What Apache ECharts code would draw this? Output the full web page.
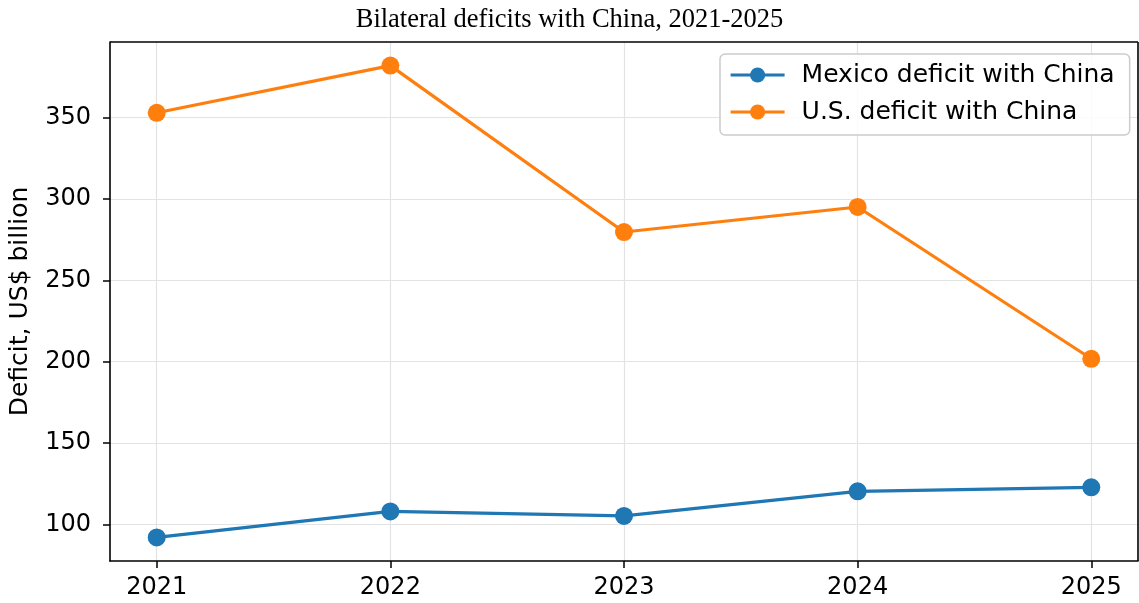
<!DOCTYPE html>
<html>
<head>
<meta charset="utf-8">
<script src="https://cdn.jsdelivr.net/npm/echarts@6/dist/echarts.min.js"></script>
<style>
html,body{margin:0;padding:0;background:#fff;}
#chart{width:1139px;height:603px;}
</style>
</head>
<body>
<div id="chart"></div>
<script>
// data
var years = [2021, 2022, 2023, 2024, 2025];
var mexico = [92, 108, 105.2, 120.3, 122.8];
var usa = [353, 382, 279.7, 295.1, 201.8];
var yTicks = [100, 150, 200, 250, 300, 350];

function pairs(vals){
    var out = [];
    for (var i = 0; i < years.length; i++) {
        out.push([years[i], vals[i]]);
    }
    return out;
}

var chart = echarts.init(document.getElementById("chart"));
var tickFont = {fontFamily: 'DejaVu Sans', fontSize: 24, color: '#000'};

var option = {
    animation: false,
    title: {
        text: 'Bilateral deficits with China, 2021-2025',
        left: 'center',
        top: 2,
        textStyle: {fontFamily: 'Liberation Serif', fontSize: 26.5, fontWeight: 'normal', color: '#000'}
    },
    grid: {left: 110, top: 42, right: 1, bottom: 42, containLabel: false, outerBoundsMode: 'none'},
    legend: {
        orient: 'vertical',
        left: 720,
        top: 54,
        padding: [8, 15, 10, 9],
        itemWidth: 54,
        itemHeight: 19,
        itemGap: 11,
        borderColor: '#cccccc',
        borderWidth: 1.5,
        borderRadius: 5,
        backgroundColor: 'rgba(255,255,255,0.85)',
        lineStyle: {width: 3.2},
        textStyle: {fontFamily: 'DejaVu Sans', fontSize: 25, color: '#000', lineHeight: 26, padding: [0, 0, 0, 12]},
        data: ['Mexico deficit with China', 'U.S. deficit with China']
    },
    xAxis: {
        type: 'value',
        min: 2020.8,
        max: 2025.2,
        axisLine: {show: true, onZero: false, lineStyle: {color: '#000', width: 1.6}},
        axisTick: {show: true, length: 7, lineStyle: {color: '#000', width: 1.5}, customValues: years},
        axisLabel: Object.assign({customValues: years, margin: 15, formatter: function(v){ return String(v); }}, tickFont),
        splitLine: {show: true, lineStyle: {color: '#e3e3e3', width: 1.2}}
    },
    yAxis: {
        type: 'value',
        min: 77.5,
        max: 396.5,
        name: 'Deficit, US$ billion',
        nameLocation: 'middle',
        nameGap: 77,
        nameTextStyle: {fontFamily: 'DejaVu Sans', fontSize: 25, color: '#000'},
        axisLine: {show: true, lineStyle: {color: '#000', width: 1.6}},
        axisTick: {show: true, length: 7, lineStyle: {color: '#000', width: 1.5}, customValues: yTicks},
        axisLabel: Object.assign({customValues: yTicks, margin: 19}, tickFont),
        splitLine: {show: true, lineStyle: {color: '#e3e3e3', width: 1.2}}
    },
    series: [
        {
            name: 'Mexico deficit with China',
            type: 'line',
            data: pairs(mexico),
            color: '#1f77b4',
            symbol: 'circle',
            symbolSize: 18,
            lineStyle: {width: 3.2},
            itemStyle: {color: '#1f77b4'}
        },
        {
            name: 'U.S. deficit with China',
            type: 'line',
            data: pairs(usa),
            color: '#ff7f0e',
            symbol: 'circle',
            symbolSize: 18,
            lineStyle: {width: 3.2},
            itemStyle: {color: '#ff7f0e'}
        }
    ],
    graphic: [
        // top and right spines of the matplotlib box
        {type: 'line', shape: {x1: 110, y1: 42, x2: 1138, y2: 42}, style: {stroke: '#000', lineWidth: 1.6}, z: 10},
        {type: 'line', shape: {x1: 1138, y1: 42, x2: 1138, y2: 561}, style: {stroke: '#000', lineWidth: 1.6}, z: 10}
    ]
};
chart.setOption(option);
</script>
</body>
</html>
